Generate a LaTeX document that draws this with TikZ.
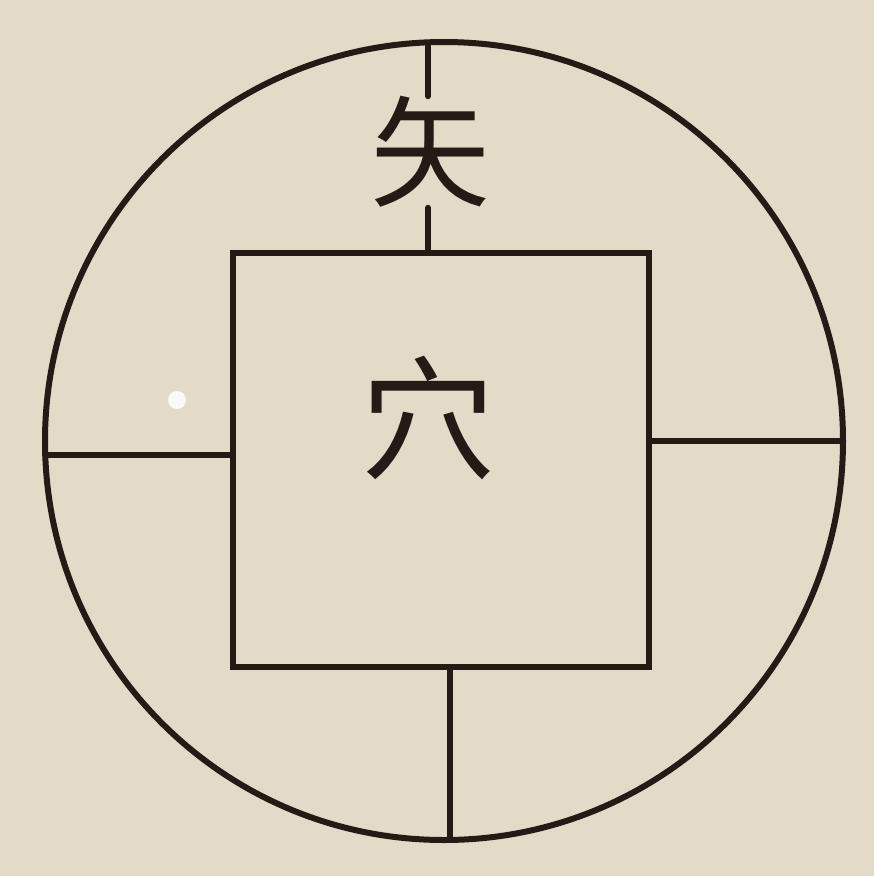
\documentclass[tikz,border=0pt]{standalone}
\usepackage{fontspec}
\newfontfamily\cjk{Noto Sans CJK SC}
\definecolor{paper}{RGB}{228,218,200}
\definecolor{ink}{RGB}{38,26,22}
\begin{document}
\begin{tikzpicture}[x=1pt,y=-1pt,
  inkline/.style={draw=ink,line width=6pt,line cap=round},
  glyph/.style={text=ink,font=\cjk\fontsize{120}{120}\selectfont,inner sep=0pt}]
\fill[paper] (0,0) rectangle (874,876);
\useasboundingbox (0,0) rectangle (874,876);
\coordinate (c) at (444,441);
\draw[inkline] (c) circle[radius=399];
\node[inkline,fill=paper,minimum width=416pt,minimum height=414pt,inner sep=0pt,line cap=butt] (sq) at (441,460) {};
\node[glyph] (ya) at (430,152) {矢};
\node[glyph,font=\cjk\fontsize{135}{135}\selectfont] (xue) at (428,418) {穴};
\coordinate (t0) at (428,43);
\coordinate (l0) at (45,455);
\coordinate (r0) at (843,441);
\coordinate (b0) at (450,838);
\draw[inkline] (t0) -- (ya.north -| t0);
\draw[inkline] (ya.south -| t0) -- (sq.north -| t0);
\draw[inkline] (l0) -- (sq.west |- l0);
\draw[inkline] (sq.east |- r0) -- (r0);
\draw[inkline] (sq.south -| b0) -- (b0);
\fill[white!85!paper] (177,400) circle[radius=9];
\end{tikzpicture}
\end{document}
